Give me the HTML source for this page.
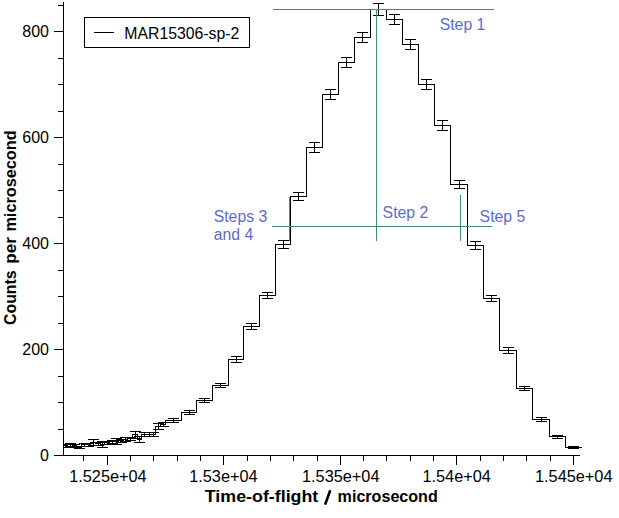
<!DOCTYPE html>
<html><head><meta charset="utf-8"><title>plot</title>
<style>
html,body{margin:0;padding:0;background:#fff;}
svg{display:block}
text{font-family:"Liberation Sans",sans-serif;}
</style></head><body>
<svg width="619" height="518" viewBox="0 0 619 518">
<rect width="619" height="518" fill="#fff"/>
<g fill="none" stroke="#000" stroke-width="1" shape-rendering="crispEdges">
<path d="M63.5 2V455.5H580"/>
<path d="M54 455.5H63.5M58 429.5H63.5M58 402.5H63.5M58 376.5H63.5M54 349.5H63.5M58 323.5H63.5M58 296.5H63.5M58 270.5H63.5M54 243.5H63.5M58 217.5H63.5M58 190.5H63.5M58 164.5H63.5M54 137.5H63.5M58 111.5H63.5M58 84.5H63.5M58 58.5H63.5M54 31.5H63.5M58 5.5H63.5M83.5 455.5V460.5M107.5 455.5V464.5M130.5 455.5V460.5M153.5 455.5V460.5M177.5 455.5V460.5M200.5 455.5V460.5M223.5 455.5V464.5M247.5 455.5V460.5M270.5 455.5V460.5M293.5 455.5V460.5M317.5 455.5V460.5M340.5 455.5V464.5M363.5 455.5V460.5M386.5 455.5V460.5M410.5 455.5V460.5M433.5 455.5V460.5M456.5 455.5V464.5M480.5 455.5V460.5M503.5 455.5V460.5M526.5 455.5V460.5M550.5 455.5V460.5M573.5 455.5V464.5"/>
</g>
<clipPath id="cp"><rect x="64" y="0" width="520" height="455"/></clipPath>
<g fill="none" stroke="#000" stroke-width="1" shape-rendering="crispEdges" clip-path="url(#cp)">
<path d="M63.5 445.5H67.5V444.5H72.5V445.5H76.5V447.5H81.5V444.5H86.5V444.5H90.5V442.5H95.5V443.5H100.5V444.5H104.5V442.5H109.5V441.5H114.5V441.5H118.5V440.5H123.5V439.5H127.5V438.5H132.5V434.5H137.5V439.5H141.5V434.5H146.5V434.5H151.5V434.5H155.5V426.5H160.5V424.5H165.5V420.5H181.5V412.5H196.5V400.5H212.5V385.5H228.5V359.5H243.5V326.5H259.5V295.5H275.5V244.5H290.5V196.5H306.5V147.5H322.5V94.5H338.5V62.5H354.5V37.5H370.5V9.5H386.5V19.5H402.5V44.5H418.5V84.5H434.5V125.5H450.5V184.5H467.5V245.5H483.5V298.5H499.5V350.5H516.5V388.5H532.5V419.5H549.5V436.5H565.5V447.5H581.5"/>
<path d="M65.5 444.0V448.0M60.0 444.5h11M60.0 447.5h11M70.5 443.0V447.0M65.0 443.5h11M65.0 446.5h11M74.5 444.0V448.0M69.0 444.5h11M69.0 447.5h11M79.5 446.0V449.0M74.0 446.5h11M74.0 448.5h11M84.5 443.0V447.0M79.0 443.5h11M79.0 446.5h11M88.5 443.0V447.0M83.0 443.5h11M83.0 446.5h11M93.5 439.0V446.0M88.0 439.5h11M88.0 445.5h11M98.5 442.0V446.0M93.0 442.5h11M93.0 445.5h11M102.5 441.0V448.0M97.0 441.5h11M97.0 447.5h11M107.5 441.0V445.0M102.0 441.5h11M102.0 444.5h11M112.5 440.0V444.0M107.0 440.5h11M107.0 443.5h11M116.5 438.0V445.0M111.0 438.5h11M111.0 444.5h11M121.5 439.0V443.0M116.0 439.5h11M116.0 442.5h11M125.5 437.0V442.0M120.0 437.5h11M120.0 441.5h11M130.5 437.0V441.0M125.0 437.5h11M125.0 440.5h11M135.5 431.0V439.0M130.0 431.5h11M130.0 438.5h11M139.5 436.0V443.0M134.0 436.5h11M134.0 442.5h11M144.5 432.0V437.0M139.0 432.5h11M139.0 436.5h11M149.5 432.0V437.0M144.0 432.5h11M144.0 436.5h11M153.5 432.0V437.0M148.0 432.5h11M148.0 436.5h11M158.5 423.0V430.0M153.0 423.5h11M153.0 429.5h11M163.5 422.0V427.0M158.0 422.5h11M158.0 426.5h11M173.5 418.0V423.0M168.0 418.5h11M168.0 422.5h11M189.5 410.0V415.0M184.0 410.5h11M184.0 414.5h11M204.5 398.0V403.0M199.0 398.5h11M199.0 402.5h11M220.5 383.0V388.0M215.0 383.5h11M215.0 387.5h11M236.5 356.0V363.0M231.0 356.5h11M231.0 362.5h11M251.5 323.0V330.0M246.0 323.5h11M246.0 329.5h11M267.5 292.0V299.0M262.0 292.5h11M262.0 298.5h11M283.5 240.0V249.0M278.0 240.5h11M278.0 248.5h11M298.5 192.0V201.0M293.0 192.5h11M293.0 200.5h11M314.5 142.0V153.0M309.0 142.5h11M309.0 152.5h11M330.5 89.0V100.0M325.0 89.5h11M325.0 99.5h11M346.5 57.0V68.0M341.0 57.5h11M341.0 67.5h11M362.5 32.0V43.0M357.0 32.5h11M357.0 42.5h11M378.5 3.0V16.0M373.0 3.5h11M373.0 15.5h11M394.5 14.0V25.0M389.0 14.5h11M389.0 24.5h11M410.5 39.0V50.0M405.0 39.5h11M405.0 49.5h11M426.5 79.0V90.0M421.0 79.5h11M421.0 89.5h11M442.5 120.0V131.0M437.0 120.5h11M437.0 130.5h11M459.5 180.0V189.0M454.0 180.5h11M454.0 188.5h11M475.5 241.0V250.0M470.0 241.5h11M470.0 249.5h11M491.5 295.0V302.0M486.0 295.5h11M486.0 301.5h11M508.5 347.0V354.0M503.0 347.5h11M503.0 353.5h11M524.5 386.0V391.0M519.0 386.5h11M519.0 390.5h11M541.5 417.0V422.0M536.0 417.5h11M536.0 421.5h11M557.5 435.0V439.0M552.0 435.5h11M552.0 438.5h11M573.5 446.0V449.0M568.0 446.5h11M568.0 448.5h11"/>
</g>
<g fill="none" stroke="#3c9167" stroke-width="1" shape-rendering="crispEdges">
<path d="M273 9.5H494"/>
<path d="M376.5 9.5V241"/>
<path d="M272 226.5H491.5"/>
<path d="M289.5 196.6V241"/>
<path d="M460.5 195V241"/>
</g>
<rect x="84.5" y="17.5" width="165" height="30" fill="#fff" stroke="#000" stroke-width="1" shape-rendering="crispEdges"/>
<path d="M94 32.5H114" stroke="#000" stroke-width="1" shape-rendering="crispEdges"/>
<g font-size="16" fill="#000">
<text x="124.3" y="38.5" textLength="115" lengthAdjust="spacingAndGlyphs">MAR15306-sp-2</text>
<text x="49" y="37" text-anchor="end">800</text>
<text x="49" y="143" text-anchor="end">600</text>
<text x="49" y="249" text-anchor="end">400</text>
<text x="49" y="355" text-anchor="end">200</text>
<text x="49" y="461" text-anchor="end">0</text>
<text x="69.2" y="481.7" textLength="77.5" lengthAdjust="spacingAndGlyphs">1.525e+04</text>
<text x="189.2" y="481.7" textLength="68.5" lengthAdjust="spacingAndGlyphs">1.53e+04</text>
<text x="302" y="481.7" textLength="77.5" lengthAdjust="spacingAndGlyphs">1.535e+04</text>
<text x="422.4" y="481.7" textLength="68.5" lengthAdjust="spacingAndGlyphs">1.54e+04</text>
<text x="535" y="481.7" textLength="77.5" lengthAdjust="spacingAndGlyphs">1.545e+04</text>
</g>
<g font-size="16.5" font-weight="bold" fill="#000">
<text x="204.8" y="502.2" textLength="113.5" lengthAdjust="spacingAndGlyphs">Time-of-flight</text>
<path d="M325.1 504.6L330.3 490.2" stroke="#000" stroke-width="2.6" fill="none"/>
<text x="337.6" y="502.2" textLength="100.2" lengthAdjust="spacingAndGlyphs">microsecond</text>
<g transform="translate(16.2 0) rotate(-90)">
<text x="-325" y="0" textLength="54.6" lengthAdjust="spacingAndGlyphs">Counts</text>
<text x="-263.7" y="0" textLength="26.6" lengthAdjust="spacingAndGlyphs">per</text>
<text x="-231.6" y="0" textLength="101.2" lengthAdjust="spacingAndGlyphs">microsecond</text>
</g>
</g>
<g font-size="15.8" fill="#5c6ccc">
<text x="439.7" y="29.5">Step 1</text>
<text x="382.6" y="217.6">Step 2</text>
<text x="213.7" y="222.1">Steps 3</text>
<text x="213.7" y="240.2">and 4</text>
<text x="479.6" y="222.2">Step 5</text>
</g>
</svg>
</body></html>
